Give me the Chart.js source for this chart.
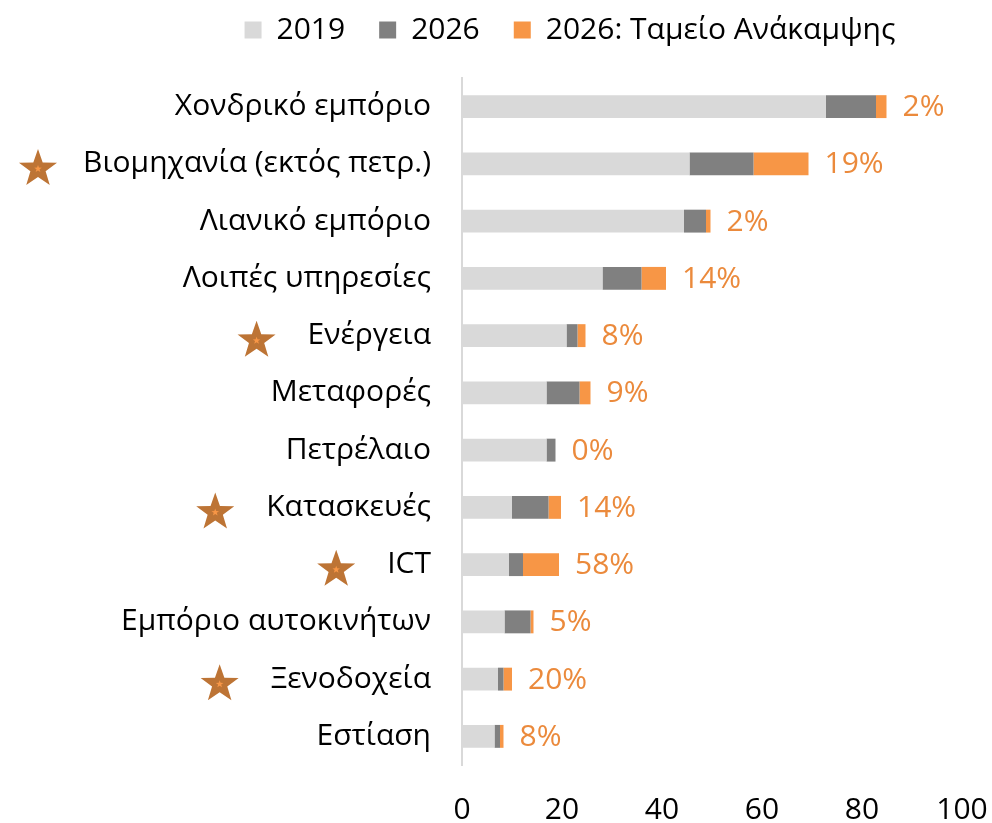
<!DOCTYPE html>
<html lang="el">
<head>
    <meta charset="UTF-8">
    <title>Κλάδοι: 2019, 2026 και Ταμείο Ανάκαμψης</title>
    <style>
        html, body { margin: 0; padding: 0; background: #ffffff; }
        #chart { display: block; }
    </style>
    <script src="https://cdn.jsdelivr.net/npm/chart.js"></script>
</head>
<body>
    <canvas id="chart" width="992" height="823"></canvas>

    <script>
        // Categories (top to bottom)
        const sectors = [
            'Χονδρικό εμπόριο',
            'Βιομηχανία (εκτός πετρ.)',
            'Λιανικό εμπόριο',
            'Λοιπές υπηρεσίες',
            'Ενέργεια',
            'Μεταφορές',
            'Πετρέλαιο',
            'Κατασκευές',
            'ICT',
            'Εμπόριο αυτοκινήτων',
            'Ξενοδοχεία',
            'Εστίαση'
        ];

        // Stacked segments
        const level2019 = [72.8, 45.5, 44.4, 28.1, 20.9, 16.9, 16.9, 10.0, 9.4, 8.5, 7.2, 6.5];
        const extra2026 = [10.0, 12.8, 4.4, 7.8, 2.2, 6.6, 1.8, 7.3, 2.8, 5.2, 1.1, 1.1];
        const recoveryFund = [2.1, 11.0, 0.9, 4.9, 1.6, 2.2, 0, 2.5, 7.2, 0.6, 1.7, 0.7];

        // Share of the recovery fund, shown next to each bar
        const fundShare = [2, 19, 2, 14, 8, 9, 0, 14, 58, 5, 20, 8];

        // Sectors marked with a star
        const starred = [1, 4, 7, 8, 10];

        const seriesNames = ['2019', '2026', '2026: Ταμείο Ανάκαμψης'];
        const xTicks = [0, 20, 40, 60, 80, 100];

        const FONT = '"Open Sans", "Noto Sans", sans-serif';
        const PLOT_LEFT = 462;
        const LABEL_GAP = 32;   // axis line to end of category text

        // percentage labels after each bar
        const shareLabels = {
            id: 'shareLabels',
            afterDatasetsDraw(chart) {
                const ctx = chart.ctx;
                const meta = chart.getDatasetMeta(2);
                ctx.save();
                ctx.font = '30px ' + FONT;
                ctx.fillStyle = '#EB8A3C';
                ctx.textAlign = 'left';
                ctx.textBaseline = 'middle';
                meta.data.forEach((bar, i) => {
                    ctx.fillText(fundShare[i] + '%', bar.x + 16, bar.y + 1);
                });
                ctx.restore();
            }
        };

        function drawStar(ctx, cx, cy, outer, inner, color) {
            ctx.beginPath();
            for (let k = 0; k < 10; k++) {
                const r = k % 2 === 0 ? outer : inner;
                const a = -Math.PI / 2 + k * Math.PI / 5;
                const px = cx + r * Math.cos(a);
                const py = cy + r * Math.sin(a);
                if (k === 0) ctx.moveTo(px, py); else ctx.lineTo(px, py);
            }
            ctx.closePath();
            ctx.fillStyle = color;
            ctx.fill();
        }

        // stars in front of some category names
        const sectorStars = {
            id: 'sectorStars',
            afterDraw(chart) {
                const ctx = chart.ctx;
                const y = chart.scales.y;
                const textRight = y.right - LABEL_GAP;
                ctx.save();
                ctx.font = '30px ' + FONT;
                starred.forEach(i => {
                    const w = ctx.measureText(sectors[i]).width;
                    const cx = Math.max(38, textRight - w - 50);
                    const cy = y.getPixelForValue(i) + 5;
                    drawStar(ctx, cx, cy, 20, 8, '#BD7435');
                    drawStar(ctx, cx, cy, 4, 1.6, '#F79646');
                });
                ctx.restore();
            }
        };

        // move the legend box to where it sits in the original
        const legendPlace = {
            id: 'legendPlace',
            afterLayout(chart) {
                const lg = chart.legend;
                lg.left = 178;
                lg.right = 962;
                lg.width = 784;
                lg.top = -19;
            }
        };

        const ctx = document.getElementById('chart').getContext('2d');
        const chart = new Chart(ctx, {
            type: 'bar',
            data: {
                labels: sectors,
                datasets: [
                    { label: seriesNames[0], data: level2019, backgroundColor: '#D9D9D9' },
                    { label: seriesNames[1], data: extra2026, backgroundColor: '#808080' },
                    { label: seriesNames[2], data: recoveryFund, backgroundColor: '#F79646' }
                ]
            },
            options: {
                indexAxis: 'y',
                responsive: false,
                animation: false,
                barPercentage: 0.8,
                categoryPercentage: 0.5,
                layout: {
                    padding: { left: 0, right: 30, top: 4, bottom: 0 }
                },
                scales: {
                    x: {
                        stacked: true,
                        min: 0,
                        max: 100,
                        grid: { display: false },
                        border: { display: false },
                        afterBuildTicks(scale) {
                            scale.ticks = xTicks.map(v => ({ value: v }));
                        },
                        afterFit(scale) {
                            scale.height = 823 - 765;
                            scale.paddingLeft = 0;
                            scale.paddingRight = 0;
                        },
                        ticks: {
                            color: '#000000',
                            padding: 19,
                            font: { family: FONT, size: 30 }
                        }
                    },
                    y: {
                        stacked: true,
                        grid: { display: false },
                        border: { display: true, color: '#D9D9D9', width: 2 },
                        afterFit(scale) {
                            scale.width = PLOT_LEFT;
                        },
                        ticks: {
                            color: '#000000',
                            padding: LABEL_GAP - 9,
                            font: { family: FONT, size: 30 }
                        }
                    }
                },
                plugins: {
                    legend: {
                        position: 'top',
                        labels: {
                            color: '#000000',
                            boxWidth: 17,
                            boxHeight: 17,
                            padding: 34,
                            font: { family: FONT, size: 30 }
                        }
                    },
                    tooltip: { enabled: false }
                }
            },
            plugins: [shareLabels, sectorStars, legendPlace]
        });
    </script>
</body>
</html>
